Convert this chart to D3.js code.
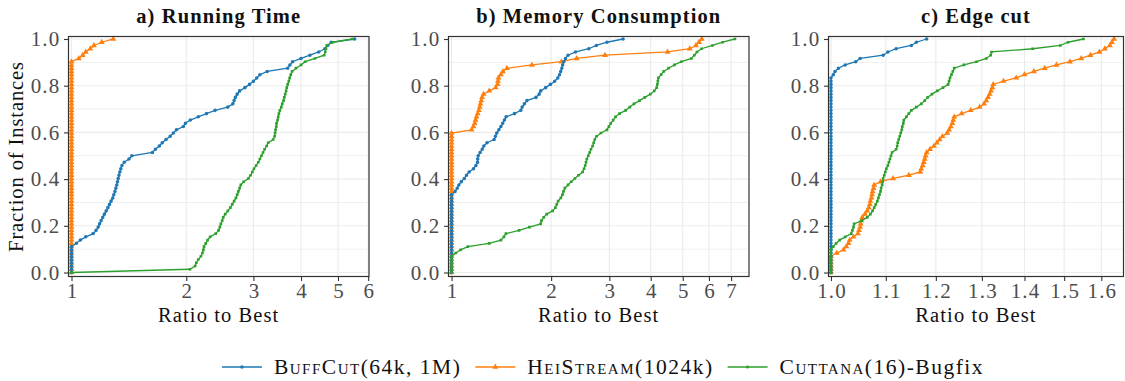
<!DOCTYPE html>
<html><head><meta charset="utf-8">
<script src="https://cdn.jsdelivr.net/npm/d3@7"></script>
<style>body{margin:0;background:#fff}svg{display:block}</style>
</head><body><svg id="c" width="1125" height="381"></svg>
<script>
// ---------- DATA ----------
const seriesNames = ["BuffCut", "HeiStream", "Cuttana"];
const seriesSuffix = ["(64k, 1M)", "(1024k)", "(16)-Bugfix"];
const panelTitles = ["a) Running Time", "b) Memory Consumption", "c) Edge cut"];
const xTicksA = [1, 2, 3, 4, 5, 6];
const xTicksB = [1, 2, 3, 4, 5, 6, 7];
const xTicksC = [1.0, 1.1, 1.2, 1.3, 1.4, 1.5, 1.6];
const yTicks = [0, 0.2, 0.4, 0.6, 0.8, 1.0];

// number of instances with ratio exactly 1 (BuffCut, HeiStream, Cuttana)
const timeTies = [8, 65, 0];
const memTies = [24, 43, 5];
const cutTies = [60, 5, 7];

// remaining sorted ratios to best
const timeBuffCut = [1.03,1.055,1.09,1.14,1.16,1.175,1.185,1.196,1.208,1.22,1.233,1.246,1.258,1.27,1.283,1.291,1.30,1.307,1.314,1.32,1.326,1.332,1.339,1.347,1.356,1.375,1.415,1.44,1.63,1.66,1.70,1.73,1.77,1.815,1.85,1.885,1.965,1.99,2.05,2.15,2.26,2.38,2.57,2.65,2.67,2.69,2.72,2.76,2.85,2.93,3.0,3.06,3.12,3.26,3.69,3.74,3.80,4.0,4.22,4.45,4.62,4.70,4.80,5.53];
const timeHeiStream = [1.045,1.07,1.09,1.12,1.145,1.2,1.287];
const timeCuttana = [2.045,2.11,2.125,2.15,2.185,2.205,2.218,2.226,2.25,2.275,2.31,2.39,2.43,2.45,2.465,2.485,2.50,2.53,2.57,2.61,2.64,2.67,2.70,2.72,2.74,2.76,2.78,2.83,2.91,2.95,2.98,3.01,3.05,3.09,3.12,3.15,3.18,3.21,3.25,3.28,3.38,3.41,3.42,3.43,3.445,3.45,3.47,3.485,3.50,3.52,3.55,3.57,3.60,3.615,3.635,3.655,3.67,3.69,3.715,3.735,3.76,3.79,3.88,4.0,4.10,4.35,4.60,4.63,4.65,4.67,4.85,5.45];

const memBuffCut = [1.025,1.04,1.052,1.07,1.093,1.11,1.13,1.165,1.185,1.198,1.2,1.204,1.22,1.238,1.252,1.28,1.345,1.357,1.37,1.39,1.41,1.428,1.445,1.462,1.55,1.62,1.635,1.66,1.69,1.80,1.84,1.86,1.925,1.99,2.05,2.095,2.12,2.138,2.155,2.167,2.185,2.21,2.25,2.37,2.6,2.74,2.95,3.30];
const memHeiStream = [1.15,1.165,1.175,1.182,1.19,1.2,1.21,1.217,1.223,1.23,1.237,1.25,1.30,1.36,1.378,1.382,1.386,1.41,1.43,1.47,1.75,2.15,2.39,2.91,4.5,5.25,5.48,5.6,5.71];
const memCuttana = [1.03,1.065,1.12,1.30,1.41,1.44,1.46,1.60,1.72,1.86,1.87,1.90,1.94,2.02,2.06,2.08,2.10,2.14,2.165,2.18,2.20,2.25,2.30,2.36,2.42,2.49,2.515,2.535,2.55,2.565,2.59,2.615,2.64,2.67,2.69,2.71,2.745,2.83,2.95,2.99,3.03,3.08,3.13,3.22,3.36,3.46,3.56,3.70,3.84,3.99,4.10,4.17,4.19,4.205,4.22,4.30,4.38,4.53,4.72,4.95,5.31,5.42,5.52,5.7,6.15,6.6,7.19];

const cutBuffCut = [1.004,1.007,1.013,1.025,1.044,1.052,1.095,1.104,1.12,1.15,1.16,1.181];
const cutHeiStream = [1.01,1.022,1.027,1.031,1.033,1.04,1.048,1.05,1.052,1.053,1.054,1.056,1.061,1.065,1.068,1.070,1.071,1.073,1.074,1.075,1.077,1.078,1.09,1.114,1.145,1.168,1.170,1.173,1.175,1.177,1.179,1.181,1.188,1.196,1.202,1.208,1.214,1.224,1.228,1.232,1.235,1.237,1.239,1.255,1.275,1.295,1.305,1.31,1.314,1.318,1.321,1.324,1.326,1.35,1.38,1.40,1.423,1.45,1.48,1.515,1.545,1.57,1.595,1.61,1.624,1.63,1.636];
const cutCuttana = [1.004,1.009,1.015,1.025,1.036,1.038,1.04,1.041,1.055,1.065,1.071,1.075,1.078,1.081,1.084,1.086,1.088,1.09,1.091,1.093,1.094,1.095,1.097,1.099,1.101,1.104,1.106,1.108,1.110,1.112,1.12,1.122,1.123,1.125,1.127,1.129,1.131,1.132,1.134,1.135,1.14,1.145,1.15,1.16,1.17,1.177,1.183,1.192,1.203,1.215,1.226,1.228,1.23,1.233,1.236,1.239,1.26,1.288,1.31,1.32,1.322,1.42,1.49,1.51,1.551];

// ---------- LAYOUT / STYLE ----------
const colors = ["#1f77b4", "#ff7f0e", "#2ca02c"];
const FONT = "'Liberation Serif', 'DejaVu Serif', serif";
const panels = [
  {title: panelTitles[0], left: 68.5, right: 369, dom: [0.982, 6.03], ticks: xTicksA, fmt: d3.format("d"),
   ties: timeTies, data: [timeBuffCut, timeHeiStream, timeCuttana]},
  {title: panelTitles[1], left: 448.5, right: 749, dom: [0.979, 7.93], ticks: xTicksB, fmt: d3.format("d"),
   ties: memTies, data: [memBuffCut, memHeiStream, memCuttana]},
  {title: panelTitles[2], left: 828.5, right: 1123.5, dom: [0.9957, 1.663], ticks: xTicksC, fmt: d3.format(".1f"),
   ties: cutTies, data: [cutBuffCut, cutHeiStream, cutCuttana]}
];
const plotTop = 36.5, plotBottom = 276.5;
const svg = d3.select("#c");
const y = d3.scaleLinear().domain([-0.0171, 1.0107]).range([plotBottom, plotTop]);

function buildPoints(ties, ratios) {
  const all = [];
  for (let i = 0; i < ties; i++) all.push(1);
  ratios.forEach(r => all.push(r));
  const n = all.length;
  const pts = [[1, 0]];
  all.forEach((r, i) => pts.push([r, (i + 1) / n]));
  return pts;
}

const symbols = [d3.symbol().type(d3.symbolCircle).size(10),
                 d3.symbol().type(d3.symbolTriangle).size(15),
                 d3.symbol().type(d3.symbolSquare).size(7)];
const drawOrder = [1, 0, 2];

function styleText(sel, size, ls) {
  sel.style("font-family", FONT).style("font-size", size + "px").style("letter-spacing", ls + "px");
}

panels.forEach((p, pi) => {
  const x = d3.scaleLog().domain(p.dom).range([p.left, p.right]);
  const g = svg.append("g");
  const minor = [0.1, 0.3, 0.5, 0.7, 0.9];
  g.selectAll(".ymin").data(minor).join("line")
    .attr("x1", p.left).attr("x2", p.right).attr("y1", d => y(d)).attr("y2", d => y(d))
    .attr("stroke", "#ebebeb").attr("stroke-width", 0.8);
  g.selectAll(".ymaj").data(yTicks).join("line")
    .attr("x1", p.left).attr("x2", p.right).attr("y1", d => y(d)).attr("y2", d => y(d))
    .attr("stroke", "#ebebeb").attr("stroke-width", 1.1);
  g.selectAll(".xmaj").data(p.ticks).join("line")
    .attr("x1", d => x(d)).attr("x2", d => x(d)).attr("y1", plotTop).attr("y2", plotBottom)
    .attr("stroke", "#ebebeb").attr("stroke-width", 1.1);

  const clipId = "clip" + pi;
  svg.append("clipPath").attr("id", clipId).append("rect")
    .attr("x", p.left - 4).attr("y", plotTop - 4).attr("width", p.right - p.left + 8).attr("height", plotBottom - plotTop + 8);
  const sg = g.append("g").attr("clip-path", `url(#${clipId})`);
  const line = d3.line().x(d => x(d[0])).y(d => y(d[1]));
  drawOrder.forEach(si => {
    const pts = buildPoints(p.ties[si], p.data[si]);
    sg.append("path").attr("d", line(pts)).attr("fill", "none")
      .attr("stroke", colors[si]).attr("stroke-width", 1.3);
    sg.selectAll(null).data(pts).join("path")
      .attr("d", symbols[si]).attr("fill", colors[si])
      .attr("transform", d => `translate(${x(d[0])},${y(d[1])})`);
  });

  g.append("rect").attr("x", p.left).attr("y", plotTop).attr("width", p.right - p.left).attr("height", plotBottom - plotTop)
    .attr("fill", "none").attr("stroke", "#333").attr("stroke-width", 1.2);

  const ya = d3.axisLeft(y).tickValues(yTicks).tickFormat(d3.format(".1f")).tickSize(4.5).tickPadding(2.5);
  const yg = g.append("g").attr("transform", `translate(${p.left},0)`).call(ya);
  yg.select(".domain").remove();
  yg.selectAll(".tick line").attr("stroke", "#333").attr("stroke-width", 1.1);
  yg.selectAll(".tick text").attr("fill", "#4d4d4d").call(styleText, 21, 1.2).attr("dx", "-1");

  const xa = d3.axisBottom(x).tickValues(p.ticks).tickFormat(p.fmt).tickSize(4.5).tickPadding(2);
  const xg = g.append("g").attr("transform", `translate(0,${plotBottom})`).call(xa);
  xg.select(".domain").remove();
  xg.selectAll(".tick line").attr("stroke", "#333").attr("stroke-width", 1.1);
  xg.selectAll(".tick text").attr("fill", "#4d4d4d").call(styleText, 21, 1.2).attr("dx", "0.6");

  const cx = (p.left + p.right) / 2;
  g.append("text").attr("x", cx).attr("y", 23).attr("text-anchor", "middle")
    .call(styleText, 20.5, 1.1).style("font-weight", "bold").attr("fill", "#111")
    .text(p.title);
  g.append("text").attr("x", cx).attr("y", 322).attr("text-anchor", "middle")
    .call(styleText, 20.5, 1.1).attr("fill", "#111")
    .text("Ratio to Best");
});

svg.append("text").attr("transform", `translate(23,${(plotTop + plotBottom) / 2}) rotate(-90)`)
  .attr("text-anchor", "middle").call(styleText, 20.5, 0.9).attr("fill", "#111")
  .text("Fraction of Instances");

const leg = svg.append("g");
const items = [];
seriesNames.forEach((nm, i) => {
  const it = leg.append("g");
  it.append("line").attr("x1", 0).attr("x2", 40).attr("y1", 0).attr("y2", 0)
    .attr("stroke", colors[i]).attr("stroke-width", 1.3);
  it.append("path").attr("d", symbols[i]).attr("fill", colors[i]).attr("transform", "translate(20,0)");
  const t = it.append("text").attr("x", 52).attr("y", 7)
    .call(styleText, 21.5, 1.5).attr("fill", "#111");
  t.append("tspan").style("font-variant", "small-caps").text(nm);
  t.append("tspan").text(seriesSuffix[i]);
  const w = 52 + t.node().getComputedTextLength();
  items.push({it, w});
});
const gap = 14;
const total = d3.sum(items, d => d.w) + gap * (items.length - 1);
let xs = 603 - total / 2;
items.forEach(d => { d.it.attr("transform", `translate(${xs},367)`); xs += d.w + gap; });
</script></body></html>
